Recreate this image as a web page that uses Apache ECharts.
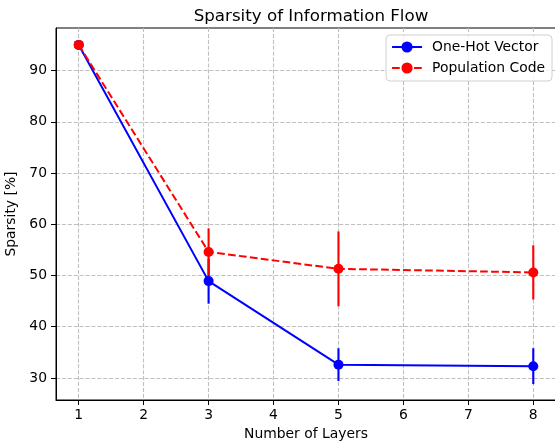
<!DOCTYPE html>
<html>
<head>
<meta charset="utf-8">
<script src="https://cdn.jsdelivr.net/npm/echarts@6/dist/echarts.min.js"></script>
<style>
html,body{margin:0;padding:0;background:#fff;}
#c{width:555px;height:447px;}
</style>
</head>
<body>
<div id="c"></div>
<script>
const layers = [1, 3, 5, 8];
const oneHot = [95, 48.9, 32.6, 32.3];
const oneHotErr = [0, 4.4, 3.2, 3.5];
const popCode = [95, 54.6, 51.3, 50.6];
const popErr = [0, 4.6, 7.3, 5.3];
const xTicks = [1, 2, 3, 4, 5, 6, 7, 8];
const yTicks = [30, 40, 50, 60, 70, 80, 90];

const FONT = 'DejaVu Sans';
const chart = echarts.init(document.getElementById('c'));

function pts(vals) { return layers.map((x, i) => [x, vals[i]]); }
function errs(vals, e) {
  return layers.map((x, i) => [x, vals[i] - e[i], vals[i] + e[i]]).filter((d, i) => e[i] > 0);
}
function errSeries(name, vals, e, color, z) {
  return {
    type: 'custom', name: name + ' err', z: z, silent: true,
    encode: { x: 0, y: [1, 2] },
    data: errs(vals, e),
    renderItem: function (params, api) {
      const x = api.value(0), lo = api.value(1), hi = api.value(2);
      const p1 = api.coord([x, lo]), p2 = api.coord([x, hi]);
      return { type: 'line', shape: { x1: p1[0], y1: p1[1], x2: p2[0], y2: p2[1] },
        style: { stroke: color, lineWidth: 2.1 } };
    }
  };
}

const gridLine = { show: true, lineStyle: { color: '#c0c0c0', width: 1.1, type: [4.1, 1.8] } };

chart.setOption({
  animation: false,
  backgroundColor: '#fff',
  textStyle: { fontFamily: FONT },
  title: {
    text: 'Sparsity of Information Flow', left: 306, top: 3, textAlign: 'center',
    textStyle: { fontFamily: FONT, fontSize: 16.7, fontWeight: 'normal', color: '#000' }
  },
  grid: { left: 56, top: 28, right: -1, bottom: 47, show: true, borderColor: '#000', borderWidth: 1,
          containLabel: false, outerBoundsMode: 'none' },
  legend: {
    orient: 'vertical', right: 3, top: 35,
    data: ['One-Hot Vector', 'Population Code'],
    itemWidth: 30, itemHeight: 14, itemGap: 7,
    padding: [5, 7, 6, 5],
    borderColor: '#d0d0d0', borderWidth: 1, borderRadius: 4, backgroundColor: 'rgba(255,255,255,0.8)',
    textStyle: { fontFamily: FONT, fontSize: 13.9, color: '#000', padding: [0, 0, 0, 5] }
  },
  xAxis: {
    type: 'value', min: 0.65, max: 8.35,
    name: 'Number of Layers', nameLocation: 'middle', nameGap: 27,
    nameTextStyle: { fontFamily: FONT, fontSize: 13.9, color: '#000' },
    axisLine: { show: true, lineStyle: { color: '#000', width: 1 } },
    axisTick: { show: true, length: 5, customValues: xTicks, lineStyle: { color: '#000' } },
    axisLabel: { customValues: xTicks, margin: 8, fontFamily: FONT, fontSize: 13.9, color: '#000' },
    splitLine: gridLine
  },
  yAxis: {
    type: 'value', min: 25.7, max: 98.3,
    name: 'Sparsity [%]', nameLocation: 'middle', nameGap: 27,
    nameTextStyle: { fontFamily: FONT, fontSize: 13.9, color: '#000' },
    axisLine: { show: true, lineStyle: { color: '#000', width: 1 } },
    axisTick: { show: true, length: 5, customValues: yTicks, lineStyle: { color: '#000' } },
    axisLabel: { customValues: yTicks, margin: 9, fontFamily: FONT, fontSize: 13.9, color: '#000' },
    splitLine: gridLine
  },
  series: [
    errSeries('One-Hot Vector', oneHot, oneHotErr, '#0000ff', 3),
    {
      type: 'line', name: 'One-Hot Vector', z: 4, data: pts(oneHot),
      symbol: 'circle', symbolSize: 10,
      lineStyle: { color: '#0000ff', width: 2 },
      itemStyle: { color: '#0000ff' }
    },
    errSeries('Population Code', popCode, popErr, '#ff0000', 5),
    {
      type: 'line', name: 'Population Code', z: 6, data: pts(popCode),
      symbol: 'circle', symbolSize: 10,
      lineStyle: { color: '#ff0000', width: 2, type: [7.7, 3.3] },
      itemStyle: { color: '#ff0000' }
    }
  ]
});
</script>
</body>
</html>
